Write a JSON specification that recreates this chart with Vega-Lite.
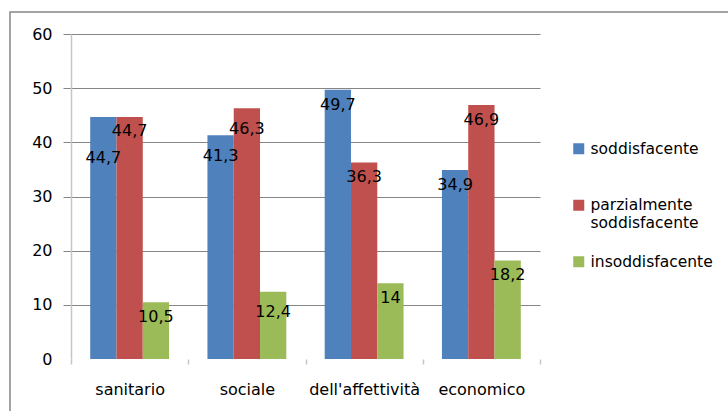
{
  "$schema": "https://vega.github.io/schema/vega-lite/v6.json",
  "autosize": {"type": "none"},
  "padding": {"left": 10, "top": 12, "right": 0, "bottom": 0},
  "width": 725,
  "height": 405,
  "background": "white",
  "config": {
    "view": {"stroke": "#878787", "strokeWidth": 1.5},
    "font": "DejaVu Sans",
    "axis": {"labelFont": "DejaVu Sans", "labelColor": "#000000", "labelFontSize": 16, "title": null}
  },
  "data": {
    "values": [
      {"area": "sanitario", "giudizio": "soddisfacente", "valore": 44.7, "etichetta": "44,7"},
      {"area": "sanitario", "giudizio": "parzialmente soddisfacente", "valore": 44.7, "etichetta": "44,7"},
      {"area": "sanitario", "giudizio": "insoddisfacente", "valore": 10.5, "etichetta": "10,5"},
      {"area": "sociale", "giudizio": "soddisfacente", "valore": 41.3, "etichetta": "41,3"},
      {"area": "sociale", "giudizio": "parzialmente soddisfacente", "valore": 46.3, "etichetta": "46,3"},
      {"area": "sociale", "giudizio": "insoddisfacente", "valore": 12.4, "etichetta": "12,4"},
      {"area": "dell'affettività", "giudizio": "soddisfacente", "valore": 49.7, "etichetta": "49,7"},
      {"area": "dell'affettività", "giudizio": "parzialmente soddisfacente", "valore": 36.3, "etichetta": "36,3"},
      {"area": "dell'affettività", "giudizio": "insoddisfacente", "valore": 14, "etichetta": "14"},
      {"area": "economico", "giudizio": "soddisfacente", "valore": 34.9, "etichetta": "34,9"},
      {"area": "economico", "giudizio": "parzialmente soddisfacente", "valore": 46.9, "etichetta": "46,9"},
      {"area": "economico", "giudizio": "insoddisfacente", "valore": 18.2, "etichetta": "18,2"}
    ]
  },
  "encoding": {
    "x": {
      "field": "area", "type": "nominal",
      "sort": ["sanitario", "sociale", "dell'affettività", "economico"],
      "scale": {"range": [61, 530], "paddingInner": 0, "paddingOuter": 0},
      "axis": {
        "orient": "bottom", "offset": -58, "labelAngle": 0, "domain": false,
        "tickBand": "extent", "tickColor": "#c6c6c6", "tickWidth": 1.5, "tickSize": 5,
        "labelPadding": 17, "grid": false
      }
    },
    "xOffset": {
      "field": "giudizio", "type": "nominal",
      "sort": ["soddisfacente", "parzialmente soddisfacente", "insoddisfacente"],
      "scale": {"paddingOuter": 0.73, "paddingInner": 0}
    },
    "y": {
      "field": "valore", "type": "quantitative",
      "scale": {"domain": [0, 60], "range": [347, 22], "nice": false, "zero": true},
      "axis": {
        "orient": "left", "offset": -61, "values": [0, 10, 20, 30, 40, 50, 60],
        "domainColor": "#c6c6c6", "domainWidth": 1.5,
        "tickSize": 8, "tickWidth": 1,
        "tickColor": {"condition": {"test": "datum.value === 0", "value": "transparent"}, "value": "#868686"},
        "grid": true, "gridWidth": 1,
        "gridColor": {"condition": {"test": "datum.value === 0", "value": "transparent"}, "value": "#868686"},
        "labelPadding": 11
      }
    }
  },
  "layer": [
    {
      "mark": {"type": "bar"},
      "encoding": {
        "color": {
          "field": "giudizio", "type": "nominal",
          "sort": ["soddisfacente", "parzialmente soddisfacente", "insoddisfacente"],
          "scale": {
            "domain": ["soddisfacente", "parzialmente soddisfacente", "insoddisfacente"],
            "range": ["#4F81BD", "#C0504D", "#9BBB59"]
          },
          "legend": {
            "title": null, "orient": "none", "legendX": 561, "legendY": 129,
            "symbolType": "square", "symbolSize": 121, "symbolStrokeWidth": 0,
            "labelFont": "DejaVu Sans", "labelFontSize": 15.5, "labelColor": "#000000",
            "labelExpr": "datum.label == 'parzialmente soddisfacente' ? ['parzialmente', 'soddisfacente'] : datum.label",
            "gridAlign": "all", "rowPadding": 22.5, "labelOffset": 4
          }
        }
      }
    },
    {
      "transform": [{"filter": "datum.area != 'sanitario' && datum.area != 'sociale'"}],
      "mark": {"type": "text", "dy": 15, "baseline": "middle", "align": "center", "fontSize": 16, "font": "DejaVu Sans", "color": "#000000"},
      "encoding": {"text": {"field": "etichetta"}}
    },
    {
      "transform": [{"filter": "datum.area == 'sanitario' && datum.giudizio != 'soddisfacente'"}],
      "mark": {"type": "text", "dy": 14.5, "baseline": "middle", "align": "center", "fontSize": 16, "font": "DejaVu Sans", "color": "#000000"},
      "encoding": {"text": {"field": "etichetta"}}
    },
    {
      "transform": [{"filter": "datum.area == 'sanitario' && datum.giudizio == 'soddisfacente'"}],
      "mark": {"type": "text", "dy": 41, "baseline": "middle", "align": "center", "fontSize": 16, "font": "DejaVu Sans", "color": "#000000"},
      "encoding": {"text": {"field": "etichetta"}}
    },
    {
      "transform": [{"filter": "datum.area == 'sociale'"}],
      "mark": {"type": "text", "dy": 20.5, "baseline": "middle", "align": "center", "fontSize": 16, "font": "DejaVu Sans", "color": "#000000"},
      "encoding": {"text": {"field": "etichetta"}}
    }
  ]
}
